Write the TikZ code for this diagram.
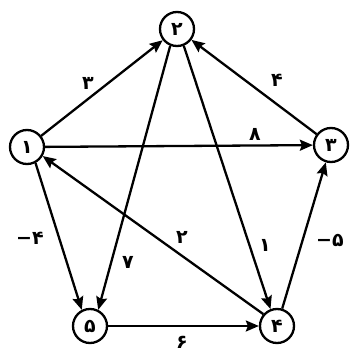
\documentclass[tikz,border=0pt]{standalone}
\usepackage{fontspec}
\newfontfamily\arabicfont[Script=Arabic]{DejaVu Sans Bold}
\newfontfamily\minusfont{DejaVu Sans Bold}
\usetikzlibrary{arrows.meta}
\begin{document}
\begin{tikzpicture}[x=1pt,y=-1pt,
  vert/.style={circle,draw,line width=2.3pt,minimum size=34pt,inner sep=0pt,font=\arabicfont\fontsize{19}{22}\selectfont},
  edge/.style={line width=2.3pt,-{Stealth[length=13pt,width=11pt,inset=2pt]}},
  wt/.style={font=\arabicfont\fontsize{19}{22}\selectfont,inner sep=0pt}]
\useasboundingbox (0,0) rectangle (350,353);
\node[vert] (n1) at (27,147) {۱};
\node[vert] (n2) at (177,29) {۲};
\node[vert] (n3) at (331,145) {۳};
\node[vert] (n4) at (277,326) {۴};
\node[vert] (n5) at (90,326) {۵};
\draw[edge] (n1) -- (n2);
\draw[edge] (n3) -- (n2);
\draw[edge] (n1) -- (n3);
\draw[edge] (n5) -- (n4);
\draw[edge] (n4) -- (n3);
\draw[edge] (n2.-112) -- (n5.63);
\draw[edge] (n2.-68) -- (n4.111);
\draw[edge] (n4.139) -- (n1.-30);
\draw[edge] (n1.-62) -- (n5.117);
\node[wt] (w12) at (88,83) {۳};
\node[wt] (w32) at (277,80) {۴};
\node[wt] (w13) at (255,134) {۸};
\node[wt] (w15) at (30,238) {{\minusfont −}۴};
\node[wt] (w25) at (128,262) {۷};
\node[wt] (w41) at (182,237) {۲};
\node[wt] (w24) at (265,245) {۱};
\node[wt] (w43) at (330,240) {{\minusfont −}۵};
\node[wt] (w54) at (182,342) {۶};
\end{tikzpicture}
\end{document}
